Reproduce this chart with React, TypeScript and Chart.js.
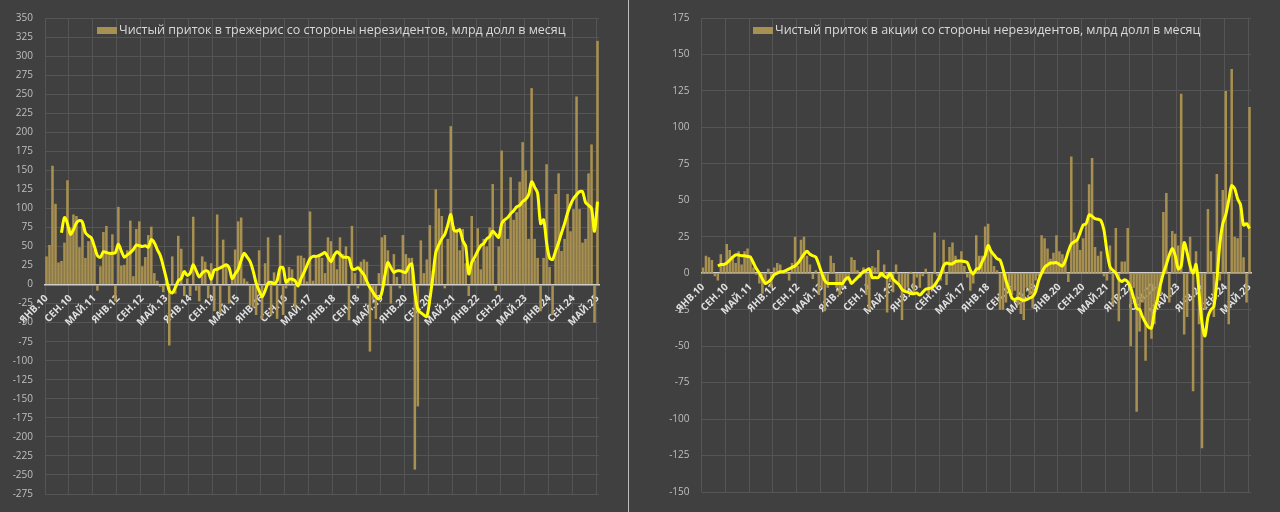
import React, { useEffect, useRef } from 'react';
import { Chart, registerables } from 'chart.js';

Chart.register(...registerables);

// ---------- categories ----------
const MONTHS = ['ЯНВ', 'ФЕВ', 'МАР', 'АПР', 'МАЙ', 'ИЮН', 'ИЮЛ', 'АВГ', 'СЕН', 'ОКТ', 'НОЯ', 'ДЕК'];
const YEARS = ['10', '11', '12', '13', '14', '15', '16', '17', '18', '19', '20', '21', '22', '23', '24', '25'];
const MONTH_COUNT = 185; // Jan 2010 .. May 2025
const LABEL_EVERY = 8;
const categories: string[] = YEARS.flatMap((y) => MONTHS.map((m) => `${m}.${y}`)).slice(0, MONTH_COUNT);

// ---------- treasuries (left panel) ----------
const treasuryLegend = 'Чистый приток в трежерис со стороны нерезидентов, млрд долл в месяц';
const treasuryTicks = [-275, 350, 25]; // min, max, step
const treasuryFlows = [
  37, 52, 156, 106, 29, 31, 55, 137, 75, 92, 90, 49,
  83, 35, 57, 60, 46, -8, 24, 69, 77, 40, 66, -22,
  102, 25, 26, 45, 84, 11, 73, 83, 24, 36, 65, 76,
  15, 5, -3, -10, 3, -80, 37, -12, 64, 47, -15, 8,
  -15, 89, -8, -22, 37, 30, -18, 28, -35, 92, -38, 59,
  26, -25, 8, 46, 83, 88, 8, 4, -28, -30, -40, 45,
  -45, 28, 62, -40, 16, -45, 65, -40, -5, 23, 20, -30,
  38, 38, 35, 4, 96, 5, 38, 40, 35, 15, 62, 57,
  40, 20, 62, 40, 50, -47, 77, 15, -5, 30, 33, 30,
  -88, -20, -45, 15, 62, 65, 45, -25, 40, 10, -5, 65,
  40, 35, 35, -243, -160, 58, 15, 33, 78, 18, 125, 100,
  90, -5, 60, 208, 77, 73, 45, 73, 28, -15, 90, 32,
  74, 20, 60, 50, 75, 132, -8, 50, 176, 82, 60, 141,
  85, 95, 135, 187, 150, 60, 258, 60, 35, -35, 35, 158,
  23, -40, 119, 146, 44, 60, 119, 70, 99, 247, 99, 55,
  60, 146, 184, -50, 320,
];
const treasuryTrend = [
  null, null, null, null, null, 68, 88, 80, 66, 72, 81, 84,
  82, 68, 64, 61, 50, 38, 36, 43, 42, 41, 41, 42,
  53, 44, 36, 39, 42, 46, 52, 51, 50, 51, 49, 59,
  55, 46, 38, 24, 8, -8, -11, -4, 5, 8, 17, 12,
  15, 26, 18, 10, 15, 18, 17, 7, 19, 20, 22, 24,
  26, 22, 8, 14, 20, 32, 41, 36, 30, 18, 2, -8,
  -16, -8, 2, 3, 1, 5, 22, 22, 3, 7, 7, 5,
  -2, 8, 16, 25, 34, 37, 37, 38, 40, 42, 36, 30,
  38, 43, 40, 36, 36, 35, 21, 20, 22, 18, 13, 4,
  -4, -10, -16, -19, -10, 12, 29, 22, 16, 18, 18, 17,
  16, 24, 27, -10, -33, -37, -40, -42, -20, 10, 42, 52,
  60, 66, 78, 92, 72, 70, 72, 58, 50, 14, 29, 36,
  44, 51, 54, 60, 63, 70, 66, 62, 80, 85, 88, 93,
  97, 102, 104, 109, 112, 118, 135, 128, 120, 80, 85, 55,
  35, 33, 44, 55, 68, 80, 94, 105, 113, 118, 122, 122,
  108, 104, 100, 70, 109,
];

// ---------- equities (right panel) ----------
const equityLegend = 'Чистый приток в акции со стороны нерезидентов, млрд долл в месяц';
const equityTicks = [-150, 175, 25];
const equityFlows = [
  4, 12, 11, 9, -2, -5, 13, 5, 20, 16, 12, 7,
  15, 6, 15, 17, 12, 4, -1, -7, -14, -8, 3, -10,
  4, 7, 6, 2, 2, -5, 7, 25, 5, 23, 25, 12,
  6, -4, 2, -15, -10, -26, -10, 12, 7, -10, -15, -10,
  -5, -5, 11, 9, 2, -3, 4, -15, -25, 5, 4, 16,
  -3, 6, -27, -6, -13, 6, -8, -32, -12, -10, 1, -13,
  -3, -10, -2, 3, -15, -10, 28, -2, -5, 23, -8, 18,
  21, 12, 8, 15, 5, -3, -12, -7, 26, 12, 12, 32,
  34, 15, 5, 2, -25, -25, -20, -10, -15, -12, -22, -28,
  -32, -10, -15, -24, -5, -2, 26, 24, 17, 10, 14, 26,
  15, 13, 8, -6, 80, 28, 23, 16, 24, 33, 61, 79,
  18, 12, 15, -2, -5, 19, -22, 31, -33, 8, 8, 31,
  -50, -10, -95, -40, -20, -60, -36, -45, -35, -20, -15, 42,
  55, -20, 29, 27, 19, 123, -42, -30, 25, -81, 15, -35,
  -120, -25, 44, 15, -30, 68, -5, 57, 125, -35, 140, 25,
  24, 48, 11, -20, 114,
];
const equityTrend = [
  null, null, null, null, null, 5, 6, 6, 7, 9, 11, 12.5,
  12.5, 12, 12, 11.5, 11, 7, 3, 0, -4, -7, -6, -4,
  -1, 0, 1, 1, 2, 3, 4, 5, 7, 10, 13, 15,
  13, 12, 11, 6, 0, -5, -7, -7, -7, -7, -7, -7,
  -4, -3, -7, -5, -3, -1, 1, 2, 3, -3, -3, -3,
  0, -2, -3, 0, -4, -6, -8, -11, -12.5, -13, -14, -14,
  -13.6, -15, -13, -11, -10.5, -10, -8, -5, -1, 5, 7, 6.4,
  6.5, 8, 8.4, 8.4, 8, 7.3, 2, -0.5, 2.7, 3.4, 8, 12,
  19, 15, 12.5, 10, 9, 3, -5, -11, -17, -18, -17, -18,
  -18.6, -18, -17, -16, -12.5, -5, 0, 4, 5.7, 7, 7, 7.3,
  6, 5, 8.6, 15, 20, 21.6, 23, 28, 33, 34, 40, 39,
  37.5, 37, 36, 29.5, 15, 4.5, 2, 0, -4, -5.7, -4.5, -6,
  -10, -17, -24, -25, -30, -34, -37, -37.5, -26, -18, -8, 0,
  6, 12.5, 17, 12, 3, 5, 21, 14, 5, 0, 6, -13,
  -34, -43, -30, -25, -22.7, -5, 20, 34, 40, 50, 60, 58,
  51, 46.6, 33, 34, 30.7,
];

// ---------- styles ----------
const BG = '#404040';
const GRID = '#555555';
const ZERO = '#d0d0d0';
const BAR = '#a89050';
const LINE = '#ffff00';
const TICK = '#bfbfbf';
const XTICK = '#e0e0e0';
const LEGEND_TEXT = '#d9d9d9';
const FONT = '"Open Sans", "Noto Sans", sans-serif';

type PanelProps = {
  flows: number[];
  trend: (number | null)[];
  ticks: number[];
  legend: string;
  width: number;
  yWidth: number;
  padTop: number;
  padBottom: number;
  padRight: number;
  legendLeft: number;
  legendTop: number;
};

function Panel(p: PanelProps) {
  const ref = useRef<HTMLCanvasElement>(null);
  useEffect(() => {
    const chart = new Chart(ref.current as HTMLCanvasElement, {
      type: 'bar',
      data: {
        labels: categories,
        datasets: [
          {
            type: 'line',
            data: p.trend,
            borderColor: LINE,
            borderWidth: 3,
            pointRadius: 0,
            tension: 0.3,
            order: 0,
          } as any,
          {
            type: 'bar',
            data: p.flows,
            backgroundColor: BAR,
            borderWidth: 0,
            categoryPercentage: 1,
            barPercentage: 0.85,
            order: 1,
          },
        ],
      },
      options: {
        responsive: false,
        animation: false,
        layout: { padding: { top: p.padTop, bottom: p.padBottom, left: 0, right: p.padRight } },
        plugins: { legend: { display: false }, tooltip: { enabled: false } },
        scales: {
          x: {
            type: 'category',
            position: { y: 0 } as any,
            offset: true,
            grid: {
              offset: true,
              drawTicks: false,
              lineWidth: 1,
              color: (ctx: any) =>
                typeof ctx.index === 'number' && ctx.index % LABEL_EVERY === 0 ? GRID : 'rgba(0,0,0,0)',
            },
            border: { display: true, color: ZERO, width: 1.5 },
            ticks: {
              autoSkip: false,
              minRotation: 45,
              maxRotation: 45,
              padding: 8,
              color: XTICK,
              font: { family: FONT, size: 10, weight: 'bold' },
              callback: (_v: any, i: number) => (i % LABEL_EVERY === 0 ? categories[i] : ''),
            },
          },
          y: {
            min: p.ticks[0],
            max: p.ticks[1],
            ticks: { stepSize: p.ticks[2], color: TICK, padding: 12, font: { family: FONT, size: 10 } },
            grid: { color: GRID, drawTicks: false, lineWidth: 1 },
            border: { display: false },
            afterFit: (s: any) => {
              s.width = p.yWidth;
            },
          },
        },
      },
    });
    return () => chart.destroy();
  }, []);
  return (
    <div style={{ position: 'relative', width: p.width, height: 512 }}>
      <canvas ref={ref} width={p.width} height={512} style={{ display: 'block' }} />
      <div
        style={{
          position: 'absolute',
          left: p.legendLeft,
          top: p.legendTop,
          display: 'flex',
          alignItems: 'center',
          whiteSpace: 'nowrap',
          fontFamily: FONT,
          fontSize: 12.5,
          color: LEGEND_TEXT,
          lineHeight: '18px',
        }}
      >
        <span style={{ display: 'inline-block', width: 20, height: 7, background: BAR, marginRight: 2 }} />
        <span>{p.legend}</span>
      </div>
    </div>
  );
}

export default function App() {
  return (
    <div
      style={{
        position: 'fixed',
        left: 0,
        top: 0,
        width: 1280,
        height: 512,
        background: BG,
        display: 'flex',
        overflow: 'hidden',
      }}
    >
      <Panel
        flows={treasuryFlows}
        trend={treasuryTrend}
        ticks={treasuryTicks}
        legend={treasuryLegend}
        width={628}
        yWidth={45}
        padTop={15.5}
        padBottom={17}
        padRight={29}
        legendLeft={97}
        legendTop={21}
      />
      <div style={{ width: 1, height: 512, background: '#bdbdbd' }} />
      <Panel
        flows={equityFlows}
        trend={equityTrend}
        ticks={equityTicks}
        legend={equityLegend}
        width={651}
        yWidth={72.5}
        padTop={12.5}
        padBottom={20}
        padRight={29}
        legendLeft={124}
        legendTop={21}
      />
    </div>
  );
}
